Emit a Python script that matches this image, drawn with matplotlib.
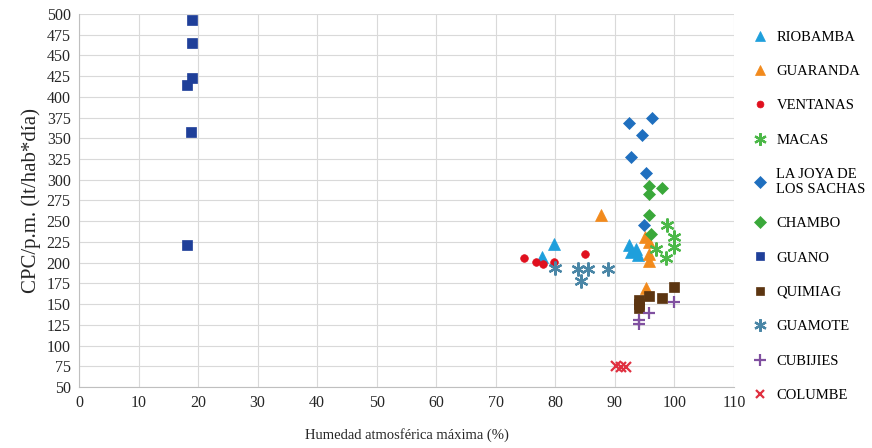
import numpy as np
import matplotlib.pyplot as plt
from matplotlib.lines import Line2D

plt.rcParams['font.family'] = ['Liberation Serif', 'DejaVu Serif']

# datos: humedad maxima (%) vs CPC/p.m. (lt/hab*dia)
riobamba_x = [77.8, 79.8, 92.3, 92.8, 93.5, 93.9]
riobamba_y = [207, 223, 221, 213, 217, 209]
guaranda_x = [87.6, 95.1, 95.8, 95.7, 95.7, 95.2]
guaranda_y = [257, 231, 225, 210, 202, 169]
ventanas_x = [74.8, 76.7, 77.9, 79.8, 85.0]
ventanas_y = [206, 201, 199, 201, 210]
macas_x = [98.8, 100.0, 100.0, 96.9, 98.6]
macas_y = [245, 231, 219, 216, 206]
lajoya_x = [92.3, 96.2, 94.5, 92.7, 95.2, 94.9]
lajoya_y = [368, 374, 354, 327, 308, 245]
chambo_x = [97.9, 95.7, 95.7, 95.8, 96.0]
chambo_y = [290, 292, 283, 257, 234]
guano_x = [19.05, 19.05, 18.9, 18.2, 18.8, 18.2]
guano_y = [493, 465, 423, 414, 357, 221]
quimiag_x = [100.0, 95.8, 97.9, 94.0, 94.0, 94.0]
quimiag_y = [171, 160, 157, 155, 150, 145]
guamote_x = [80.0, 83.9, 85.5, 88.8, 84.4]
guamote_y = [194, 192, 192, 192, 178]
cubijies_x = [100.0, 95.8, 94.0, 94.0]
cubijies_y = [152, 139, 131, 126]
columbe_x = [90.2, 91.1, 91.9]
columbe_y = [76, 74, 74]

asterisco = (6, 2, 0)

series = [
    ('RIOBAMBA', riobamba_x, riobamba_y, '^', '#1e9fdc', 8.5),
    ('GUARANDA', guaranda_x, guaranda_y, '^', '#f28a1c', 8.5),
    ('VENTANAS', ventanas_x, ventanas_y, 'o', '#e0101e', 5.5),
    ('MACAS', macas_x, macas_y, asterisco, '#4cb848', 10),
    ('LA JOYA DE\nLOS SACHAS', lajoya_x, lajoya_y, 'D', '#1f6fbf', 6.5),
    ('CHAMBO', chambo_x, chambo_y, 'D', '#3aa83a', 6.5),
    ('GUANO', guano_x, guano_y, 's', '#1f3f99', 7),
    ('QUIMIAG', quimiag_x, quimiag_y, 's', '#5c3511', 7),
    ('GUAMOTE', guamote_x, guamote_y, asterisco, '#4a86a6', 10),
    ('CUBIJIES', cubijies_x, cubijies_y, '+', '#8050a0', 9),
    ('COLUMBE', columbe_x, columbe_y, 'x', '#e03040', 7),
]

fig = plt.figure(figsize=(8.72, 4.48), dpi=100)
ax = fig.add_axes([0.0906, 0.136, 0.751, 0.833])

handles = []
for nombre, xs, ys, mk, col, ms in series:
    lw = 1.6 if mk in (asterisco, '+', 'x') else 0
    ax.plot(xs, ys, linestyle='none', marker=mk, color=col, markersize=ms,
            markeredgewidth=lw if lw else 0.5, markeredgecolor=col)
    handles.append(Line2D([], [], linestyle='none', marker=mk, color=col,
                          markersize=ms * 0.9, markeredgecolor=col,
                          markeredgewidth=lw if lw else 0.5, label=nombre))

ax.set_xlim(0, 110)
ax.set_ylim(50, 500)
ax.set_xticks(np.arange(0, 111, 10))
ax.set_yticks(np.arange(50, 501, 25))
ax.grid(True, color='#d9d9d9', linewidth=0.8)
ax.set_axisbelow(True)
ax.tick_params(length=0, labelsize=11.5, colors='#262626', pad=6)
for s in ['top', 'right']:
    ax.spines[s].set_visible(False)
for s in ['left', 'bottom']:
    ax.spines[s].set_color('#bfbfbf')

ax.set_xlabel('Humedad atmosférica máxima (%)', fontsize=10.5, color='#262626', labelpad=12)
ax.set_ylabel('CPC/p.m. (lt/hab*día)', fontsize=15, color='#262626', labelpad=4)

fig.legend(handles=handles, loc='upper left', bbox_to_anchor=(0.857, 0.945),
           frameon=False, fontsize=10.5, labelspacing=1.45, handlelength=1.0,
           handletextpad=0.6, borderaxespad=0)

fig.savefig('out.png', dpi=100)
